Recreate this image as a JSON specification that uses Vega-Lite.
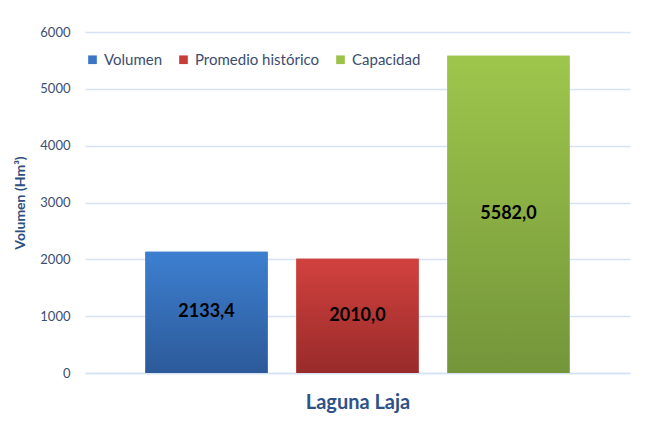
{
  "$schema": "https://vega.github.io/schema/vega-lite/v6.json",
  "width": 545,
  "height": 341,
  "autosize": "none",
  "padding": {"left": 85, "top": 32, "right": 27, "bottom": 58},
  "background": "white",
  "config": {"font": "Lato", "view": {"stroke": null}},
  "data": {
    "values": [
      {"serie": "Volumen", "valor": 2133.4, "etiqueta": "2133,4"},
      {"serie": "Promedio histórico", "valor": 2010.0, "etiqueta": "2010,0"},
      {"serie": "Capacidad", "valor": 5582.0, "etiqueta": "5582,0"}
    ]
  },
  "encoding": {
    "x": {
      "field": "serie",
      "type": "nominal",
      "sort": ["Volumen", "Promedio histórico", "Capacidad"],
      "scale": {"paddingInner": 0.19, "paddingOuter": 0.4},
      "axis": {
        "labels": false,
        "ticks": false,
        "domainColor": "#d6e2f3",
        "domainWidth": 1.5,
        "title": "Laguna Laja",
        "titleFont": "Lato",
        "titleFontSize": 20,
        "titleFontWeight": "bold",
        "titleColor": "#2e5286",
        "titlePadding": 19
      }
    }
  },
  "layer": [
    {
      "mark": {"type": "bar"},
      "encoding": {
        "y": {
          "field": "valor",
          "type": "quantitative",
          "scale": {"domain": [0, 6000]},
          "axis": {
            "values": [0, 1000, 2000, 3000, 4000, 5000, 6000],
            "format": "d",
            "grid": true,
            "gridColor": "#d6e2f3",
            "gridWidth": 1.5,
            "domain": false,
            "ticks": false,
            "labelPadding": 15,
            "labelFontSize": 13,
            "labelColor": "#3b4e6f",
            "title": "Volumen (Hm³)",
            "titleFontSize": 14,
            "titleFontWeight": "bold",
            "titleColor": "#2e4f80",
            "titlePadding": 12
          }
        },
        "color": {
          "field": "serie",
          "type": "nominal",
          "scale": {
            "domain": ["Volumen", "Promedio histórico", "Capacidad"],
            "range": ["#3a76c4", "#c83c3a", "#9bc34a"]
          },
          "legend": {
            "title": null,
            "orient": "none",
            "legendX": 0,
            "legendY": 20,
            "direction": "horizontal",
            "symbolType": "square",
            "symbolSize": 75,
            "symbolStrokeWidth": 0,
            "labelFontSize": 15,
            "labelColor": "#3b4e6f",
            "labelOffset": 4,
            "columnPadding": 13
          }
        }
      }
    },
    {
      "transform": [{"filter": "datum.serie === 'Volumen'"}],
      "mark": {
        "type": "bar",
        "color": {"gradient": "linear", "x1": 0, "y1": 0, "x2": 0, "y2": 1,
          "stops": [{"offset": 0, "color": "#3d7fd0"}, {"offset": 1, "color": "#2c5a99"}]}
      },
      "encoding": {"y": {"field": "valor", "type": "quantitative"}}
    },
    {
      "transform": [{"filter": "datum.serie === 'Promedio histórico'"}],
      "mark": {
        "type": "bar",
        "color": {"gradient": "linear", "x1": 0, "y1": 0, "x2": 0, "y2": 1,
          "stops": [{"offset": 0, "color": "#d1413e"}, {"offset": 1, "color": "#982b2a"}]}
      },
      "encoding": {"y": {"field": "valor", "type": "quantitative"}}
    },
    {
      "transform": [{"filter": "datum.serie === 'Capacidad'"}],
      "mark": {
        "type": "bar",
        "color": {"gradient": "linear", "x1": 0, "y1": 0, "x2": 0, "y2": 1,
          "stops": [{"offset": 0, "color": "#9ec64c"}, {"offset": 1, "color": "#74953a"}]}
      },
      "encoding": {"y": {"field": "valor", "type": "quantitative"}}
    },
    {
      "transform": [{"calculate": "datum.valor / 2", "as": "mitad"}],
      "mark": {"type": "text", "font": "Lato", "fontSize": 18, "fontWeight": "bold", "color": "black", "baseline": "middle"},
      "encoding": {
        "y": {"field": "mitad", "type": "quantitative"},
        "text": {"field": "etiqueta", "type": "nominal"}
      }
    }
  ]
}
